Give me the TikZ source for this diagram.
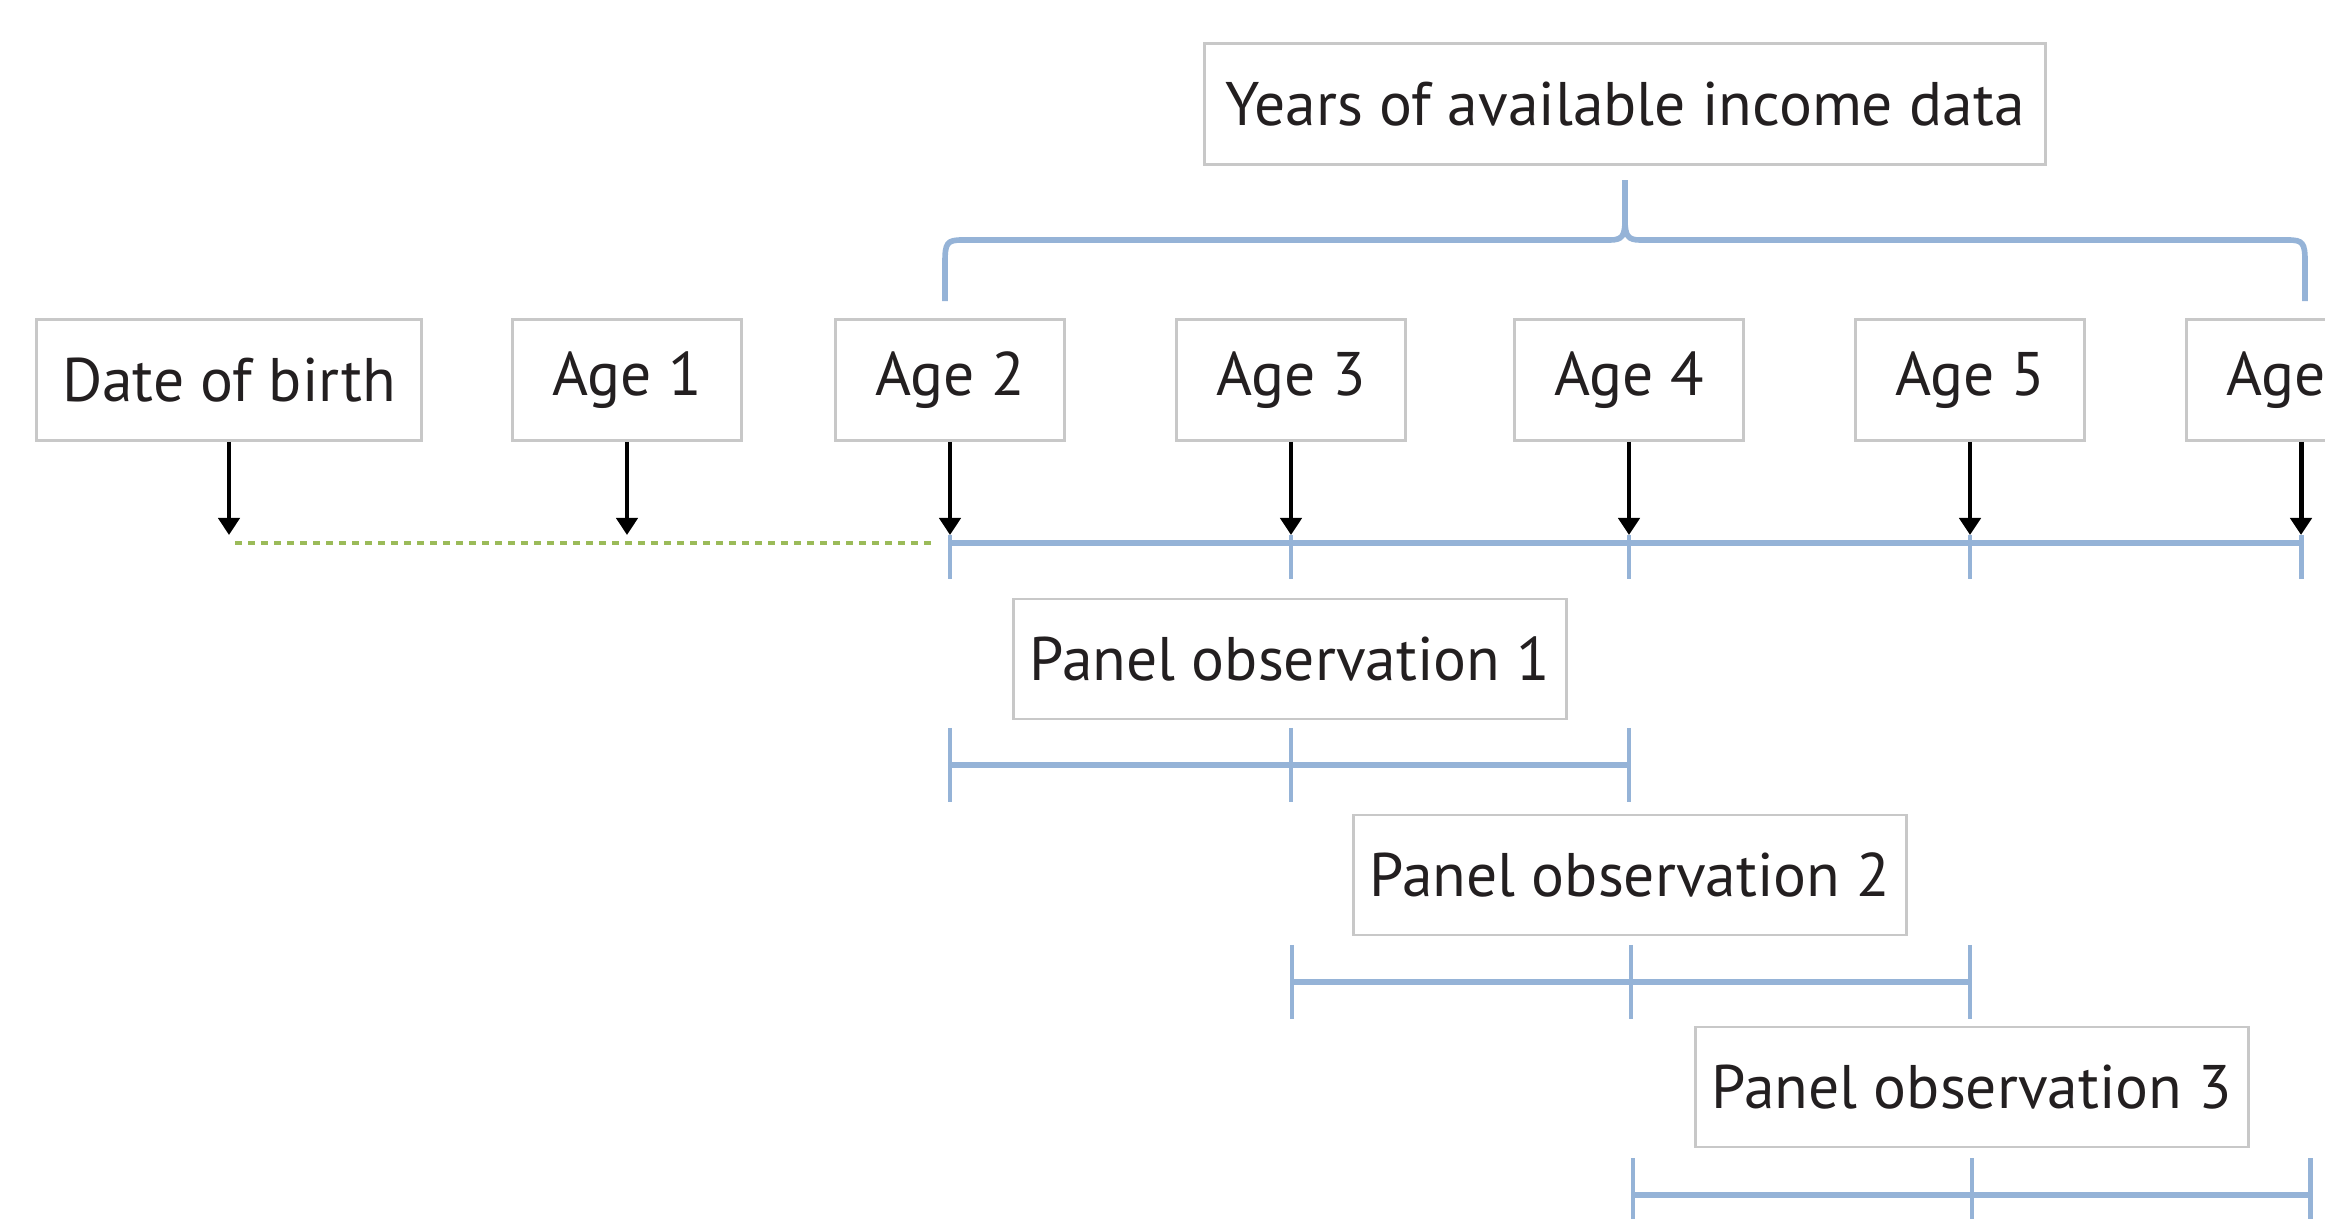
\documentclass[tikz,border=0pt]{standalone}
\usepackage{fontspec}
\setmainfont{PT Sans}
\usepackage{tikz}
\usetikzlibrary{arrows.meta,positioning}
\usepackage{xcolor}
\definecolor{Frame}{RGB}{200,200,200}
\definecolor{Span}{RGB}{149,179,215}
\definecolor{Prior}{RGB}{155,187,89}
\definecolor{Ink}{RGB}{35,31,32}

\tikzset{
  agebox/.style={draw=Frame, line width=0.8pt, fill=white, text=Ink,
    minimum width=2.29cm, minimum height=1.21cm, inner sep=0pt,
    font=\fontsize{17.5}{20}\selectfont},
  panelbox/.style={agebox, minimum width=5.52cm, minimum height=1.20cm},
  timeline/.style={Span, line width=1.6pt},
  tick/.style={Span, line width=1.4pt},
  prior/.style={Prior, line width=1.4pt, dash pattern=on 0.065cm off 0.065cm},
  pointer/.style={-{Triangle[width=0.21cm,length=0.17cm]}, line width=1.4pt, black,
    shorten >=0.08cm}
}

\begin{document}
\begin{tikzpicture}[x=0.01cm,y=-0.01cm]
\useasboundingbox (0,0) rectangle (2325,1218);
%
\node[agebox, minimum width=8.41cm] (years) at (1625,104) {Years of available income data};
\node[agebox, minimum width=3.84cm] (dob) at (229,380) {Date of birth};
\node[agebox] (age1) at (627,380) {Age 1};
\node[agebox] (age2) at (950,380) {Age 2};
\node[agebox] (age3) at (1291,380) {Age 3};
\node[agebox] (age4) at (1629,380) {Age 4};
\node[agebox] (age5) at (1970,380) {Age 5};
\node[agebox] (age6) at (2301,380) {Age 6};
%
\coordinate (t0) at (229,543);
\coordinate (t1) at (627,543);
\coordinate (t2) at (950,543);
\coordinate (t3) at (1291,543);
\coordinate (t4) at (1629,543);
\coordinate (t5) at (1970,543);
\coordinate (t6) at (2301,543);
%
% brace over the income years
\draw[timeline] (945,301) -- (945,262) .. controls (945,243) and (947,240) .. (962,240)
  -- (1610,240) .. controls (1622,240) and (1625,236) .. (1625,220) -- (1625,180);
\draw[timeline] (1625,220) .. controls (1625,236) and (1628,240) .. (1640,240)
  -- (2288,240) .. controls (2303,240) and (2305,243) .. (2305,262) -- (2305,301);
%
% time line
\draw[prior] ([xshift=0.06cm]t0) -- ([xshift=-0.15cm]t2);
\draw[timeline] (t2) -- (t6);
\foreach \t in {t2,t3,t4,t5,t6}
  \draw[tick] ([yshift=0.08cm]\t) -- ([yshift=-0.36cm]\t);
%
\draw[pointer] (dob) -- (t0);
\draw[pointer] (age1) -- (t1);
\draw[pointer] (age2) -- (t2);
\draw[pointer] (age3) -- (t3);
\draw[pointer] (age4) -- (t4);
\draw[pointer] (age5) -- (t5);
\draw[pointer] (age6) -- (t6);
%
% panel observations
\node[panelbox] (obs1) at (1290,659) {Panel observation 1};
\node[panelbox] (obs2) at (1630,875) {Panel observation 2};
\node[panelbox] (obs3) at (1972,1087) {Panel observation 3};
%
\coordinate (p1a) at (950,765);  \coordinate (p1b) at (1291,765); \coordinate (p1c) at (1629,765);
\coordinate (p2a) at (1292,982); \coordinate (p2b) at (1631,982); \coordinate (p2c) at (1970,982);
\coordinate (p3a) at (1633,1195); \coordinate (p3b) at (1972,1195); \coordinate (p3c) at (2310,1195);
%
\draw[timeline] (p1a) -- (p1c);
\draw[timeline] (p2a) -- (p2c);
\draw[timeline] (p3a) -- (p3c);
\foreach \t in {p1a,p1b,p1c,p2a,p2b,p2c,p3a,p3b,p3c}
  \draw[tick] ([yshift=0.37cm]\t) -- ([yshift=-0.37cm]\t);
%
\end{tikzpicture}
\end{document}
